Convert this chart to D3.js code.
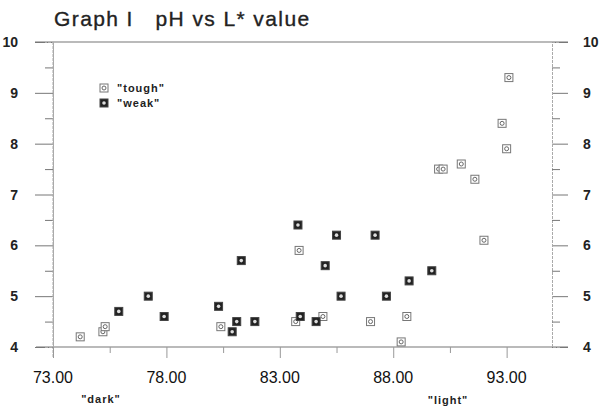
<!DOCTYPE html>
<html>
<head>
<meta charset="utf-8">
<script src="https://cdn.jsdelivr.net/npm/d3@7/dist/d3.min.js"></script>
<style>
  html, body { margin: 0; padding: 0; background: #fff; }
  svg { display: block; }
  text { font-family: "Liberation Sans", Arial, sans-serif; }
</style>
</head>
<body>
<svg id="chart" width="600" height="418"></svg>
<script>
// ---- data ----
const toughL  = [74.2, 75.2, 75.3, 80.4, 83.7, 83.85, 84.9, 87.0, 88.6, 88.35, 92.0, 93.1, 92.8, 93.0, 91.0, 90.0, 90.2, 91.6];
const toughPH = [4.2, 4.3, 4.4, 4.4, 4.5, 5.9, 4.6, 4.5, 4.6, 4.1, 6.1, 9.3, 8.4, 7.9, 7.6, 7.5, 7.5, 7.3];
const weakL   = [75.9, 77.2, 77.9, 80.3, 80.9, 81.1, 81.3, 81.9, 83.9, 83.8, 85.5, 87.2, 85.0, 89.7, 88.7, 85.7, 87.7, 84.6];
const weakPH  = [4.7, 5.0, 4.6, 4.8, 4.3, 4.5, 5.7, 4.5, 4.6, 6.4, 6.2, 6.2, 5.6, 5.5, 5.3, 5.0, 5.0, 4.5];
const xTicks  = [73, 78, 83, 88, 93];
const xTickLabels = ["73.00", "78.00", "83.00", "88.00", "93.00"];
const yTicks  = [4, 5, 6, 7, 8, 9, 10];
const seriesNames = ["\"tough\"", "\"weak\""];
const titleText = "Graph I   pH vs L* value";
const darkLabel = "\"dark\"";
const lightLabel = "\"light\"";

(function () {
// ---- layout ----
const svg = d3.select("#chart");
const pL = 53, pR = 552, pT = 42, pB = 347;
const x = d3.scaleLinear().domain([73, 95]).range([pL, pR]);
const y = d3.scaleLinear().domain([4, 10]).range([pB, pT]);
const axisColor = "#777";

// title
svg.append("text").attr("x", 54).attr("y", 26)
  .attr("font-size", 21).attr("fill", "#222").attr("letter-spacing", 1.4)
  .attr("stroke", "#222").attr("stroke-width", 0.35)
  .style("white-space", "pre").attr("xml:space", "preserve")
  .text(titleText);

// frame lines (top & bottom extend beyond axes)
svg.append("line").attr("x1", 35).attr("x2", 568).attr("y1", pT).attr("y2", pT)
  .attr("stroke", axisColor).attr("stroke-width", 1.2);
svg.append("line").attr("x1", 36).attr("x2", 568).attr("y1", pB).attr("y2", pB)
  .attr("stroke", axisColor).attr("stroke-width", 1.2);

// left axis
const yLeft = d3.axisLeft(y).tickValues(yTicks).tickSize(18).tickFormat("");
const gL = svg.append("g").attr("transform", `translate(${pL},0)`).call(yLeft);
const yLeftMinor = d3.axisLeft(y).tickValues(d3.range(4.5, 10, 1)).tickSize(8).tickFormat("");
const gLm = svg.append("g").attr("transform", `translate(${pL},0)`).call(yLeftMinor);
[gL, gLm].forEach(g => {
  g.select(".domain").attr("stroke", "#aaa").attr("stroke-dasharray", "3,1");
  g.selectAll(".tick line").attr("stroke", axisColor);
});
svg.append("line").attr("x1", pL).attr("x2", pL).attr("y1", pT).attr("y2", 358)
  .attr("stroke", "#aaa").attr("stroke-dasharray", "3,1");

// right axis
const yRight = d3.axisRight(y).tickValues(yTicks).tickSize(16).tickFormat("");
const gR = svg.append("g").attr("transform", `translate(${pR},0)`).call(yRight);
const yRightMinor = d3.axisRight(y).tickValues(d3.range(4.5, 10, 1)).tickSize(8).tickFormat("");
const gRm = svg.append("g").attr("transform", `translate(${pR},0)`).call(yRightMinor);
[gR, gRm].forEach(g => {
  g.select(".domain").attr("stroke", "#aaa").attr("stroke-dasharray", "3,1");
  g.selectAll(".tick line").attr("stroke", axisColor);
});

// y labels
svg.selectAll(".ylabL").data(yTicks).join("text")
  .attr("x", 18).attr("y", d => y(d) + 5).attr("text-anchor", "end")
  .attr("font-size", 14).attr("font-weight", "bold").attr("fill", "#222")
  .text(d => d);
svg.selectAll(".ylabR").data(yTicks).join("text")
  .attr("x", 583).attr("y", d => y(d) + 5).attr("text-anchor", "start")
  .attr("font-size", 14).attr("font-weight", "bold").attr("fill", "#222")
  .text(d => d);

// x axis ticks
const xAx = d3.axisBottom(x).tickValues(xTicks).tickSize(11).tickFormat("");
const gX = svg.append("g").attr("transform", `translate(0,${pB})`).call(xAx);
const xAxMinor = d3.axisBottom(x).tickValues(d3.range(75.5, 95, 5)).tickSize(6).tickFormat("");
const gXm = svg.append("g").attr("transform", `translate(0,${pB})`).call(xAxMinor);
[gX, gXm].forEach(g => {
  g.select(".domain").remove();
  g.selectAll(".tick line").attr("stroke", "#999");
});

svg.selectAll(".xlab").data(xTicks).join("text")
  .attr("x", d => x(d)).attr("y", 383).attr("text-anchor", "middle")
  .attr("font-size", 16).attr("fill", "#111")
  .text((d, i) => xTickLabels[i]);

svg.append("text").attr("x", 101).attr("y", 403).attr("text-anchor", "middle")
  .attr("font-size", 11).attr("font-weight", "bold").attr("letter-spacing", 1).attr("fill", "#222")
  .text(darkLabel);
svg.append("text").attr("x", 448).attr("y", 404).attr("text-anchor", "middle")
  .attr("font-size", 11).attr("font-weight", "bold").attr("letter-spacing", 1).attr("fill", "#222")
  .text(lightLabel);

// markers
const S = 8;
function toughMarker(g) {
  g.append("rect").attr("x", -S/2).attr("y", -S/2).attr("width", S).attr("height", S)
    .attr("fill", "#fff").attr("stroke", "#777").attr("stroke-width", 1);
  g.append("circle").attr("r", 2).attr("fill", "none").attr("stroke", "#666").attr("stroke-width", 1);
}
function weakMarker(g) {
  g.append("rect").attr("x", -S/2).attr("y", -S/2).attr("width", S).attr("height", S)
    .attr("fill", "#222").attr("stroke", "#444").attr("stroke-width", 1);
  g.append("circle").attr("r", 1.8).attr("fill", "#ddd");
}

const toughData = toughL.map((v, i) => ({ l: v, ph: toughPH[i] }));
const weakData = weakL.map((v, i) => ({ l: v, ph: weakPH[i] }));

svg.append("g").selectAll("g").data(toughData).join("g")
  .attr("transform", d => `translate(${x(d.l)},${y(d.ph)})`)
  .each(function() { toughMarker(d3.select(this)); });
svg.append("g").selectAll("g").data(weakData).join("g")
  .attr("transform", d => `translate(${x(d.l)},${y(d.ph)})`)
  .each(function() { weakMarker(d3.select(this)); });

// legend
const legY = [88, 103];
const lg1 = svg.append("g").attr("transform", `translate(104,${legY[0]})`);
toughMarker(lg1);
const lg2 = svg.append("g").attr("transform", `translate(104,${legY[1]})`);
weakMarker(lg2);
svg.selectAll(".legt").data(seriesNames).join("text")
  .attr("x", 117).attr("y", (d, i) => legY[i] + 4)
  .attr("font-size", 11).attr("font-weight", "bold").attr("letter-spacing", 1).attr("fill", "#222")
  .text(d => d);
})();
</script>
</body>
</html>
